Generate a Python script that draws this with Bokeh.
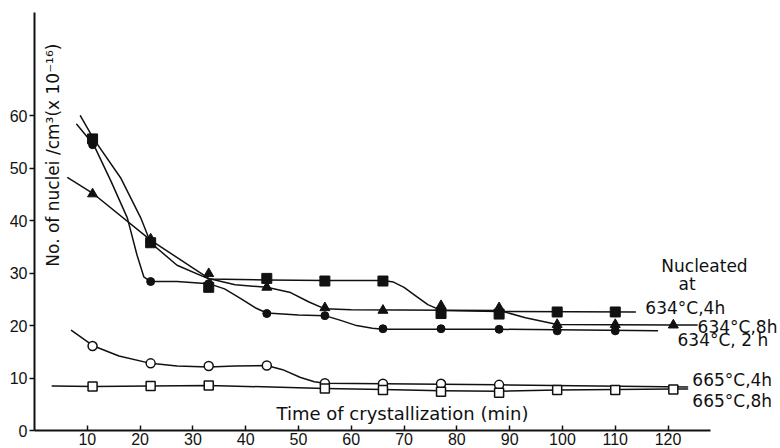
import math
from bokeh.plotting import figure
from bokeh.models import Range1d, FixedTicker, Label
from bokeh.embed import file_html
from bokeh.resources import INLINE

# ---- tick values ----
x_ticks = [10, 20, 30, 40, 50, 60, 70, 80, 90, 100, 110, 120]
y_ticks = [0, 10, 20, 30, 40, 50, 60]

# ---- 634 °C, 4 h (filled squares) ----
sq4_t = [11, 22, 33, 44, 55, 66, 77, 88, 99, 110]
sq4_v = [55.6, 35.8, 27.3, 29.0, 28.5, 28.5, 22.3, 22.2, 22.6, 22.6]
sq4_cx = [8.7, 11.2, 16.3, 20.1, 22, 27, 33, 44, 55, 66, 68, 70, 72, 74.5, 77, 88, 113.8]
sq4_cy = [60.0, 55.6, 48.2, 40.6, 35.8, 31.5, 28.9, 28.7, 28.6, 28.6, 28.3, 27.3, 25.8, 24.0, 22.9, 22.7, 22.6]

# ---- 634 °C, 2 h (filled circles) ----
c2_t = [11, 22, 33, 44, 55, 66, 77, 88, 99, 110]
c2_v = [54.5, 28.4, 28.0, 22.3, 21.9, 19.4, 19.4, 19.3, 19.0, 19.0]
c2_cx = [8.0, 11.2, 14.5, 17.6, 19.4, 20.7, 22, 27, 33, 36, 39, 42, 44, 50, 55, 58, 61, 64, 66, 88, 118]
c2_cy = [58.4, 54.5, 47.5, 40.5, 33.5, 29.3, 28.4, 28.4, 28.0, 27.0, 25.2, 23.3, 22.4, 22.0, 21.9, 21.0, 20.0, 19.5, 19.3, 19.3, 19.0]

# ---- 634 °C, 8 h (filled triangles) ----
t8_t = [11, 22, 33, 44, 55, 66, 77, 88, 99, 110, 121]
t8_v = [45.1, 36.5, 29.9, 27.3, 23.4, 22.9, 23.8, 23.4, 20.2, 20.2, 20.1]
t8_cx = [6.3, 11.2, 22, 33, 38, 44, 48.5, 52, 55, 60, 88, 93, 99, 121, 125.5]
t8_cy = [48.2, 45.1, 36.3, 29.0, 27.8, 27.3, 26.3, 24.5, 23.2, 23.0, 22.9, 21.5, 20.2, 20.1, 20.1]

# ---- 665 °C, 4 h (open circles) ----
o4_t = [11, 22, 33, 44, 55, 66, 77, 88]
o4_v = [16.1, 12.8, 12.3, 12.4, 9.0, 8.9, 8.9, 8.7]
o4_cx = [7.0, 11.2, 16, 22, 27, 33, 38, 44, 47, 50.4, 53, 55, 66, 88, 123.7]
o4_cy = [19.1, 16.1, 14.2, 12.8, 12.3, 12.1, 12.3, 12.4, 11.6, 10.1, 9.3, 9.0, 8.9, 8.7, 8.3]

# ---- 665 °C, 8 h (open squares) ----
s8_t = [11, 22, 33, 55, 66, 77, 88, 99, 110, 121]
s8_v = [8.4, 8.5, 8.6, 8.0, 7.7, 7.4, 7.2, 7.7, 7.7, 7.8]
s8_cx = [3.35, 11.2, 22, 33, 55, 66, 77, 88, 99, 110, 121, 123.7]
s8_cy = [8.5, 8.4, 8.5, 8.6, 8.0, 7.8, 7.6, 7.5, 7.7, 7.8, 7.9, 7.9]

# ---- text ----
y_title = "No. of nuclei /cm³(x 10⁻¹⁶)"
x_title = "Time of crystallization (min)"
legend_head = ["Nucleated", "at"]
series_labels = ["634°C,4h", "634°C,8h", "634°C, 2 h", "665°C,4h", "665°C,8h"]

INK = "#111111"
TXT_FONT = "DejaVu Sans"

p = figure(width=780, height=448, output_backend="svg", toolbar_location=None,
           x_range=Range1d(0, 141.3), y_range=Range1d(0, 79.7),
           min_border=0, min_border_left=34, min_border_right=0,
           min_border_top=12, min_border_bottom=18)
p.outline_line_color = None
p.grid.visible = False
p.background_fill_color = "white"
p.border_fill_color = "white"

for ax in (p.xaxis[0], p.yaxis[0]):
    ax.axis_line_width = 2
    ax.axis_line_color = INK
    ax.major_tick_line_color = INK
    ax.major_tick_line_width = 1.5
    ax.minor_tick_line_color = None
    ax.major_label_text_font = "Liberation Sans"
    ax.major_label_text_font_size = "16px"
    ax.major_label_text_color = INK
    ax.axis_label_standoff = 0

p.xaxis.ticker = FixedTicker(ticks=x_ticks)
p.xaxis.bounds = (0, 128)
p.xaxis.major_tick_in = 5
p.xaxis.major_tick_out = 0
p.xaxis.major_label_standoff = 2

p.yaxis.ticker = FixedTicker(ticks=y_ticks)
p.yaxis.bounds = (0, 79.7)
p.yaxis.major_tick_in = 0
p.yaxis.major_tick_out = 5
p.yaxis.major_label_standoff = 2

LW = 1.5
# curves
for cx, cy in [(sq4_cx, sq4_cy), (c2_cx, c2_cy), (t8_cx, t8_cy), (o4_cx, o4_cy), (s8_cx, s8_cy)]:
    p.line(cx, cy, line_color=INK, line_width=LW, line_join="round", line_cap="round")

# markers
p.scatter(sq4_t, sq4_v, marker="square", size=10, fill_color=INK, line_color=INK)
p.scatter(c2_t, c2_v, marker="circle", size=8, fill_color=INK, line_color=INK)
p.scatter(t8_t, t8_v, marker="triangle", size=10, fill_color=INK, line_color=INK)
p.scatter(o4_t, o4_v, marker="circle", size=9, fill_color="white", line_color=INK, line_width=1.5)
p.scatter(s8_t, s8_v, marker="square", size=9, fill_color="white", line_color=INK, line_width=1.5)

# axis titles (inside the frame, as in the figure)
p.add_layout(Label(x=3.5, y=52.5, text=y_title, angle=math.pi / 2,
                   text_align="center", text_baseline="middle",
                   text_font=TXT_FONT, text_font_size="17px", text_color=INK))
p.add_layout(Label(x=69.7, y=3.15, text=x_title, text_align="center", text_baseline="middle",
                   text_font=TXT_FONT, text_font_size="18px", text_color=INK))

# legend-like annotations
p.add_layout(Label(x=126.9, y=31.4, text=legend_head[0], text_align="center", text_baseline="middle",
                   text_font=TXT_FONT, text_font_size="17px", text_color=INK))
p.add_layout(Label(x=123.6, y=28.0, text=legend_head[1], text_align="center", text_baseline="middle",
                   text_font=TXT_FONT, text_font_size="17px", text_color=INK))
lab_pos = [(115.7, 23.4), (125.6, 19.75), (121.8, 17.3), (124.6, 9.6), (124.6, 5.6)]
for txt, (lx, ly) in zip(series_labels, lab_pos):
    p.add_layout(Label(x=lx, y=ly, text=txt, text_align="left", text_baseline="middle",
                       text_font=TXT_FONT, text_font_size="17px", text_color=INK))

open("out.html", "w").write(file_html(p, INLINE))
